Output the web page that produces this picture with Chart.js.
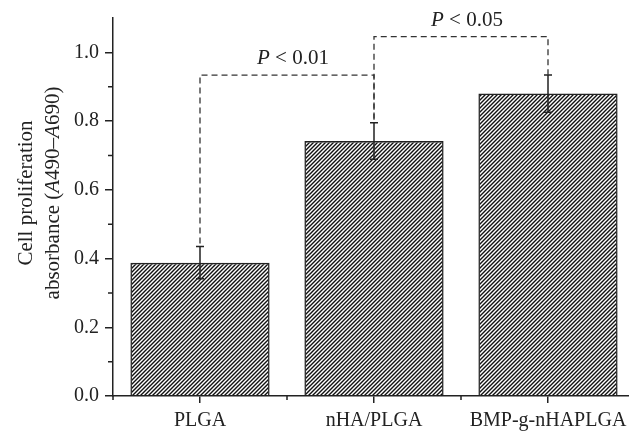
<!DOCTYPE html>
<html>
<head>
<meta charset="utf-8">
<script src="https://cdn.jsdelivr.net/npm/chart.js@4/dist/chart.umd.min.js"></script>
<style>
  html, body { margin: 0; padding: 0; background: #fff; overflow: hidden; }
  canvas { display: block; }
</style>
</head>
<body>
<canvas id="chart" width="640" height="435"></canvas>
<script>
const categories = ['PLGA', 'nHA/PLGA', 'BMP-g-nHAPLGA'];
const absorbance = [0.388, 0.742, 0.880];
const errors = [0.047, 0.053, 0.054];
const yTicks = [0, 0.2, 0.4, 0.6, 0.8, 1.0];
const yMinorTicks = [0.1, 0.3, 0.5, 0.7, 0.9];
// significance brackets: from bar, to bar, height, label
const bracketFrom = [0, 1];
const bracketTo = [1, 2];
const bracketLevel = [0.934, 1.046];
const bracketLabel = ['0.01', '0.05'];

const ink = '#222';
const serif = '"Liberation Serif", "DejaVu Serif", serif';
Chart.defaults.font.family = serif;
Chart.defaults.font.size = 20;
Chart.defaults.color = ink;

function hatch() {
  const c = document.createElement('canvas');
  c.width = 4; c.height = 4;
  const g = c.getContext('2d');
  g.strokeStyle = '#111';
  g.lineWidth = 1.4;
  g.beginPath();
  g.moveTo(0, 4); g.lineTo(4, 0);
  g.moveTo(-1, 1); g.lineTo(1, -1);
  g.moveTo(3, 5); g.lineTo(5, 3);
  g.stroke();
  return g.createPattern(c, 'repeat');
}

// draw text made of plain and italic pieces
function richText(ctx, parts, x, y, align, size) {
  const fonts = parts.map(p => (p.it ? 'italic ' : '') + size + 'px ' + serif);
  let total = 0;
  const widths = parts.map((p, i) => { ctx.font = fonts[i]; const w = ctx.measureText(p.t).width; total += w; return w; });
  let cx = align === 'center' ? x - total / 2 : x;
  ctx.textAlign = 'left';
  ctx.textBaseline = 'alphabetic';
  parts.forEach((p, i) => { ctx.font = fonts[i]; ctx.fillText(p.t, cx, y); cx += widths[i]; });
}

const extras = {
  id: 'extras',
  afterDatasetsDraw(chart) {
    const ctx = chart.ctx;
    const xs = chart.scales.x, ys = chart.scales.y;
    const bars = chart.getDatasetMeta(0).data;
    ctx.save();
    ctx.strokeStyle = ink;
    ctx.fillStyle = ink;

    // error bars
    ctx.lineWidth = 1.5;
    bars.forEach((b, i) => {
      const t = ys.getPixelForValue(absorbance[i] + errors[i]);
      const btm = ys.getPixelForValue(absorbance[i] - errors[i]);
      ctx.beginPath();
      ctx.moveTo(b.x, t); ctx.lineTo(b.x, btm);
      ctx.moveTo(b.x - 4, t); ctx.lineTo(b.x + 4, t);
      ctx.moveTo(b.x - 4, btm); ctx.lineTo(b.x + 4, btm);
      ctx.stroke();
    });

    // minor ticks
    const yAxisX = chart.chartArea.left;
    ctx.beginPath();
    yMinorTicks.forEach(v => {
      const py = ys.getPixelForValue(v);
      ctx.moveTo(yAxisX - 5, py); ctx.lineTo(yAxisX, py);
    });
    const step = xs.getPixelForValue(1) - xs.getPixelForValue(0);
    const axisY = chart.chartArea.bottom;
    for (let i = 0; i <= categories.length; i++) {
      const px = xs.getPixelForValue(0) + (i - 0.5) * step;
      ctx.moveTo(px, axisY); ctx.lineTo(px, axisY + 4);
    }
    ctx.stroke();

    // significance brackets
    ctx.lineWidth = 1.3;
    ctx.strokeStyle = '#333';
    ctx.setLineDash([6, 4]);
    bracketFrom.forEach((f, k) => {
      const t = bracketTo[k];
      const x1 = bars[f].x, x2 = bars[t].x;
      const yl = ys.getPixelForValue(bracketLevel[k]);
      const y1 = ys.getPixelForValue(absorbance[f] + errors[f]) - 3;
      const y2 = ys.getPixelForValue(absorbance[t] + errors[t]);
      ctx.beginPath();
      ctx.moveTo(x1, y1); ctx.lineTo(x1, yl); ctx.lineTo(x2, yl); ctx.lineTo(x2, y2);
      ctx.stroke();
      richText(ctx, [{ t: 'P', it: true }, { t: ' < ' + bracketLabel[k] }], (x1 + x2) / 2 + 6, yl - 11, 'center', 21);
    });
    ctx.setLineDash([]);

    // y axis title
    const cy = 193;
    ctx.translate(32, cy);
    ctx.rotate(-Math.PI / 2);
    richText(ctx, [{ t: 'Cell proliferation' }], 0, 0, 'center', 21);
    richText(ctx, [{ t: 'absorbance (' }, { t: 'A', it: true }, { t: '490\u2013' }, { t: 'A', it: true }, { t: '690)' }], 0, 27, 'center', 21);
    ctx.restore();
  }
};

new Chart(document.getElementById('chart'), {
  type: 'bar',
  data: {
    labels: categories,
    datasets: [{
      data: absorbance,
      backgroundColor: hatch(),
      borderColor: ink,
      borderWidth: 1.5,
      barPercentage: 0.8,
      categoryPercentage: 1.0
    }]
  },
  options: {
    responsive: false,
    animation: false,
    layout: { padding: { top: 15, right: 5, left: 0, bottom: 0 } },
    plugins: { legend: { display: false }, tooltip: { enabled: false } },
    scales: {
      x: {
        grid: { drawOnChartArea: false, offset: false, tickLength: 7, color: ink, lineWidth: 1.5 },
        border: { color: ink, width: 1.5 },
        ticks: { padding: 6, maxRotation: 0, autoSkip: false, color: ink },
        afterFit: s => { s.height = 39; }
      },
      y: {
        min: 0,
        max: 1.1,
        grid: { drawOnChartArea: false, tickLength: 8, color: ink, lineWidth: 1.5 },
        border: { color: ink, width: 1.5 },
        ticks: { padding: 6, color: ink, callback: v => v.toFixed(1) },
        afterBuildTicks: s => { s.ticks = yTicks.map(v => ({ value: v })); },
        afterFit: s => { s.width = 113; }
      }
    }
  },
  plugins: [extras]
});
</script>
</body>
</html>
